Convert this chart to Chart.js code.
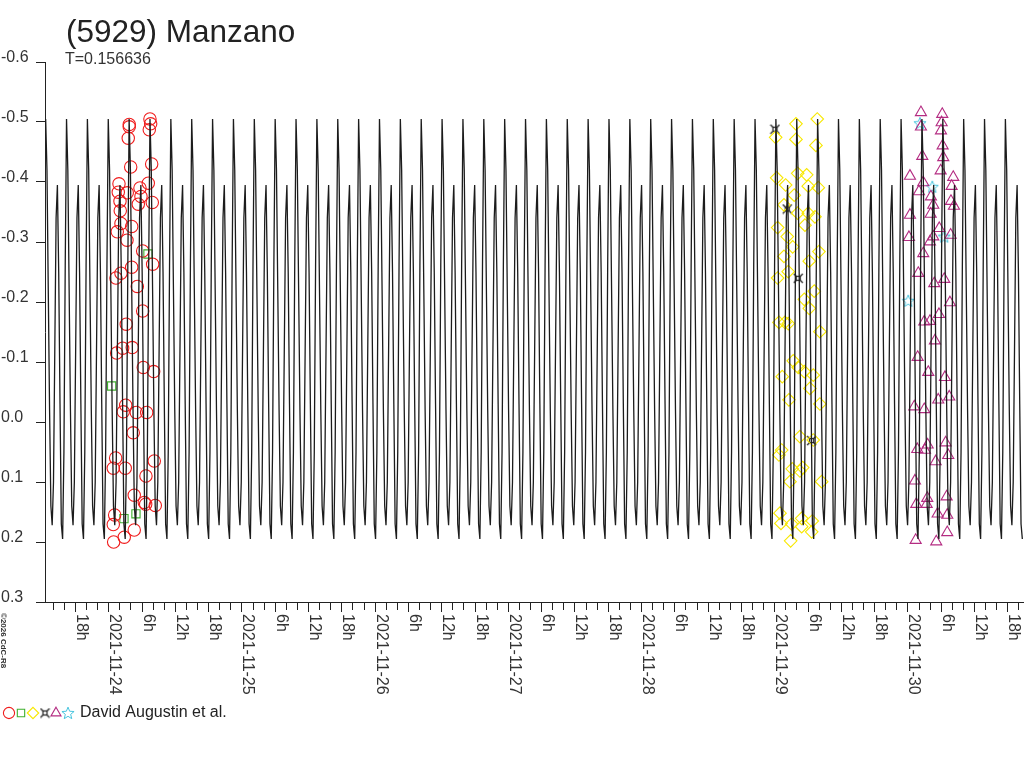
<!DOCTYPE html>
<html>
<head>
<meta charset="utf-8">
<script src="https://cdn.jsdelivr.net/npm/chart.js@4.4.0/dist/chart.umd.min.js"></script>
<style>
  html, body { margin: 0; padding: 0; background: #fff; }
  #lc { display: block; }
</style>
</head>
<body>
<canvas id="lc" width="1024" height="768"></canvas>
<script>
const titleText = "(5929) Manzano";
const periodText = "T=0.156636";
const observerText = "David Augustin et al.";
const copyText = "©2026 CdC-R8";

// time axis: hours since 2021-11-24 00:00 UT
const periodDays = 0.156636;
const firstMaxHour = -11.28;
const curveEndHour = 164.75;
// one rotation of the fitted curve (start at main maximum)
const curveProfile = [-0.505, -0.42, -0.22, -0.02, 0.14, 0.172, 0.10, -0.12,
  -0.34, -0.395, -0.25, -0.03, 0.17, 0.195, 0.05, -0.26];

const dayLabels = ["2021-11-23", "2021-11-24", "2021-11-25", "2021-11-26", "2021-11-27",
  "2021-11-28", "2021-11-29", "2021-11-30", "2021-12-01"];
const hourLabels = ["6h", "12h", "18h"];

// observations [hour, magnitude]
const redObs = [[3.78,-0.496],[3.78,-0.492],[3.60,-0.473],[7.51,-0.505],[7.64,-0.497],[7.39,-0.487],
  [4.04,-0.425],[7.82,-0.430],[1.93,-0.397],[5.71,-0.390],[7.21,-0.398],[1.80,-0.383],[3.42,-0.382],
  [5.89,-0.376],[2.11,-0.368],[5.41,-0.363],[7.93,-0.366],[2.16,-0.352],[2.29,-0.331],[4.22,-0.326],
  [1.62,-0.317],[3.37,-0.303],[6.20,-0.285],[8.00,-0.263],[4.22,-0.258],[2.29,-0.248],[1.39,-0.240],
  [5.23,-0.226],[6.20,-0.185],[3.24,-0.163],[1.51,-0.115],[2.59,-0.123],[4.32,-0.124],[6.31,-0.091],
  [8.18,-0.084],[3.14,-0.028],[2.70,-0.017],[5.05,-0.016],[6.92,-0.016],[4.50,0.018],[1.33,0.060],
  [0.90,0.077],[3.06,0.077],[8.29,0.065],[6.79,0.090],[4.68,0.122],[6.49,0.134],[6.74,0.137],
  [8.47,0.139],[1.15,0.155],[0.90,0.171],[4.68,0.180],[2.88,0.192],[0.97,0.200]];
const greenObs = [[7.15,-0.280],[0.61,-0.060],[2.83,0.161],[4.99,0.153]];
const yellowObs = [[120.25,-0.4745],[123.91,-0.497],[123.91,-0.471],[127.75,-0.505],[127.51,-0.461],
  [120.43,-0.407],[122.05,-0.395],[124.22,-0.4145],[125.84,-0.412],[126.13,-0.393],[127.93,-0.3905],
  [123.60,-0.378],[121.75,-0.362],[124.22,-0.348],[126.13,-0.348],[127.33,-0.342],[120.61,-0.324],
  [125.53,-0.328],[122.34,-0.309],[123.32,-0.292],[128.05,-0.284],[121.75,-0.276],[126.31,-0.268],
  [122.52,-0.2505],[120.61,-0.240],[127.21,-0.218],[125.41,-0.2045],[126.31,-0.1895],[120.85,-0.166],
  [121.93,-0.166],[122.52,-0.164],[128.23,-0.1505],[123.42,-0.102],[124.32,-0.091],[125.41,-0.084],
  [127.03,-0.078],[121.44,-0.0755],[126.43,-0.056],[122.65,-0.037],[128.23,-0.030],[124.63,0.0245],
  [127.03,0.030],[121.33,0.0467],[120.85,0.055],[123.24,0.078],[125.12,0.076],[124.63,0.0817],
  [122.83,0.0995],[128.54,0.0995],[121.03,0.152],[121.21,0.169],[123.14,0.170],[124.94,0.1605],
  [124.94,0.1745],[126.85,0.165],[126.74,0.183],[122.95,0.198]];
const blackObs = [[120.13,-0.488],[122.34,-0.355],[124.32,-0.2395],[126.74,0.031]];
const purpleObs = [[146.43,-0.516],[146.43,-0.492],[150.27,-0.513],[150.16,-0.499],[150.04,-0.4855],
  [150.34,-0.4605],[150.45,-0.441],[146.67,-0.443],[144.45,-0.410],[149.98,-0.4188],[152.25,-0.408],
  [151.96,-0.393],[146.85,-0.399],[146.07,-0.384],[148.23,-0.3755],[151.84,-0.368],[152.38,-0.360],
  [148.65,-0.3617],[148.18,-0.3467],[144.45,-0.345],[149.73,-0.3228],[144.27,-0.3078],[148.65,-0.3088],
  [148.05,-0.3005],[151.78,-0.3117],[146.85,-0.281],[145.95,-0.248],[148.83,-0.231],[150.63,-0.238],
  [151.66,-0.199],[149.68,-0.1795],[147.03,-0.167],[148.05,-0.168],[148.95,-0.1355],[145.84,-0.108],
  [147.75,-0.083],[150.76,-0.0745],[145.23,-0.0255],[147.03,-0.021],[149.55,-0.037],[151.53,-0.042],
  [147.64,0.038],[147.15,0.0467],[145.77,0.0455],[150.88,0.0345],[151.35,0.0555],[149.08,0.066],
  [145.35,0.098],[147.57,0.127],[147.46,0.137],[145.59,0.137],[151.06,0.1245],[149.44,0.153],
  [151.17,0.155],[151.17,0.184],[145.48,0.197],[149.19,0.1995]];
const cyanObs = [[146.25,-0.498],[148.47,-0.392],[150.63,-0.309],[144.14,-0.202]];

const FONT = '"Liberation Sans", Arial, sans-serif';
Chart.defaults.font.family = FONT;

function toPoints(list) {
  return list.map(p => ({ x: p[0], y: p[1] }));
}

// repeat the single-rotation profile with the period from the subtitle
const periodHours = periodDays * 24;
const curvePoints = [];
for (let i = 0; ; i++) {
  const t = firstMaxHour + i * periodHours / curveProfile.length;
  if (t > curveEndHour) break;
  curvePoints.push({ x: t, y: curveProfile[i % curveProfile.length] });
}

function makeStar(color) {
  const c = document.createElement("canvas");
  c.width = 14; c.height = 14;
  const g = c.getContext("2d");
  g.strokeStyle = color;
  g.lineWidth = 1;
  g.beginPath();
  for (let i = 0; i < 10; i++) {
    const r = i % 2 ? 2.8 : 6.4;
    const a = -Math.PI / 2 + i * Math.PI / 5;
    const px = 7 + r * Math.cos(a), py = 7.5 + r * Math.sin(a);
    if (i) g.lineTo(px, py); else g.moveTo(px, py);
  }
  g.closePath();
  g.stroke();
  return c;
}

function makeCurrency(color) {
  const c = document.createElement("canvas");
  c.width = 11; c.height = 11;
  const g = c.getContext("2d");
  g.strokeStyle = color;
  g.lineWidth = 1.2;
  g.strokeRect(3.5, 3.5, 4, 4);
  g.beginPath();
  g.moveTo(1, 1); g.lineTo(3.5, 3.5);
  g.moveTo(10, 1); g.lineTo(7.5, 3.5);
  g.moveTo(1, 10); g.lineTo(3.5, 7.5);
  g.moveTo(10, 10); g.lineTo(7.5, 7.5);
  g.stroke();
  return c;
}

const series = [
  { data: redObs, color: "#f01c1c", style: "circle", radius: 6.2 },
  { data: greenObs, color: "#3fb02e", style: "rect", radius: 5.8 },
  { data: yellowObs, color: "#f8e800", style: "rectRot", radius: 6.3 },
  { data: blackObs, color: "#1c1c1c", style: makeCurrency("#1c1c1c"), radius: 5 },
  { data: purpleObs, color: "#b42c82", style: "triangle", radius: 6.4 },
  { data: cyanObs, color: "#48c4de", style: makeStar("#48c4de"), radius: 6 },
];

const datasets = [{
  label: "fit",
  data: curvePoints,
  showLine: true,
  borderColor: "#1c1c1c",
  borderWidth: 1.3,
  pointRadius: 0,
  tension: 0,
}];
series.forEach(s => {
  datasets.push({
    data: toPoints(s.data),
    pointStyle: s.style,
    pointRadius: s.radius,
    pointHoverRadius: s.radius,
    pointBorderColor: s.color,
    pointBackgroundColor: "rgba(0,0,0,0)",
    pointBorderWidth: 1.1,
  });
});

const decorations = {
  id: "decorations",
  afterDraw(chart) {
    const ctx = chart.ctx;
    const xs = chart.scales.x, ys = chart.scales.y;
    const area = chart.chartArea;
    ctx.save();

    ctx.fillStyle = "#222";
    ctx.textAlign = "left";
    ctx.textBaseline = "alphabetic";
    ctx.font = "31.5px " + FONT;
    ctx.fillText(titleText, 66, 42);
    ctx.font = "16px " + FONT;
    ctx.fillStyle = "#333";
    ctx.fillText(periodText, 65, 64);

    // y labels
    ctx.textBaseline = "middle";
    ys.ticks.forEach(t => {
      let s = t.value.toFixed(1);
      if (s === "-0.0") s = "0.0";
      ctx.fillText(s, 1, ys.getPixelForValue(t.value) - 4);
    });

    // x ticks and rotated labels
    ctx.strokeStyle = "#222";
    ctx.lineWidth = 1;
    xs.ticks.forEach(t => {
      const px = Math.round(xs.getPixelForValue(t.value)) + 0.5;
      if (px > area.right) return;
      const major = Math.abs(t.value % 6) < 1e-6;
      ctx.beginPath();
      ctx.moveTo(px, area.bottom);
      ctx.lineTo(px, area.bottom + (major ? 10 : 8));
      ctx.stroke();
      if (!major) return;
      const day = Math.floor(t.value / 24);
      const rem = Math.round(t.value - day * 24);
      const label = rem === 0 ? dayLabels[day + 1] : hourLabels[rem / 6 - 1];
      ctx.save();
      ctx.translate(px + 1, area.bottom + 12);
      ctx.rotate(Math.PI / 2);
      ctx.textBaseline = "alphabetic";
      ctx.fillText(label, 0, 0);
      ctx.restore();
    });

    // copyright
    ctx.save();
    ctx.translate(1, 613);
    ctx.rotate(Math.PI / 2);
    ctx.font = "bold 8px " + FONT;
    ctx.textBaseline = "alphabetic";
    ctx.fillText(copyText, 0, 0);
    ctx.restore();

    // legend: symbols then observer name
    const legendX = [9, 21, 33, 45, 56, 68];
    series.forEach((s, i) => {
      ctx.save();
      ctx.strokeStyle = s.color;
      ctx.fillStyle = "rgba(0,0,0,0)";
      ctx.lineWidth = 1.1;
      Chart.helpers.drawPoint(ctx, { pointStyle: s.style, radius: s.radius - 0.6, rotation: 0, borderWidth: 1 }, legendX[i], 713);
      ctx.restore();
    });
    ctx.fillStyle = "#222";
    ctx.font = "16px " + FONT;
    ctx.textBaseline = "alphabetic";
    ctx.fillText(observerText, 80, 717);

    ctx.restore();
  }
};

new Chart(document.getElementById("lc"), {
  type: "scatter",
  data: { datasets },
  options: {
    responsive: false,
    animation: false,
    events: [],
    layout: { autoPadding: false, padding: { top: 62, left: 0, right: 0, bottom: 0 } },
    plugins: { legend: { display: false }, tooltip: { enabled: false } },
    scales: {
      x: {
        type: "linear",
        min: -11.4,
        max: 165,
        ticks: { display: false, stepSize: 2, includeBounds: false },
        grid: { display: false },
        border: { display: true, color: "#222", width: 1 },
        afterFit(scale) { scale.height = 166; },
      },
      y: {
        type: "linear",
        reverse: true,
        min: -0.6,
        max: 0.3,
        ticks: { display: false, stepSize: 0.1 },
        grid: { display: true, drawOnChartArea: false, drawTicks: true, tickLength: 9, color: "#222" },
        border: { display: true, color: "#222", width: 1 },
        afterFit(scale) { scale.width = 45; },
      },
    },
  },
  plugins: [decorations],
});
</script>
</body>
</html>
